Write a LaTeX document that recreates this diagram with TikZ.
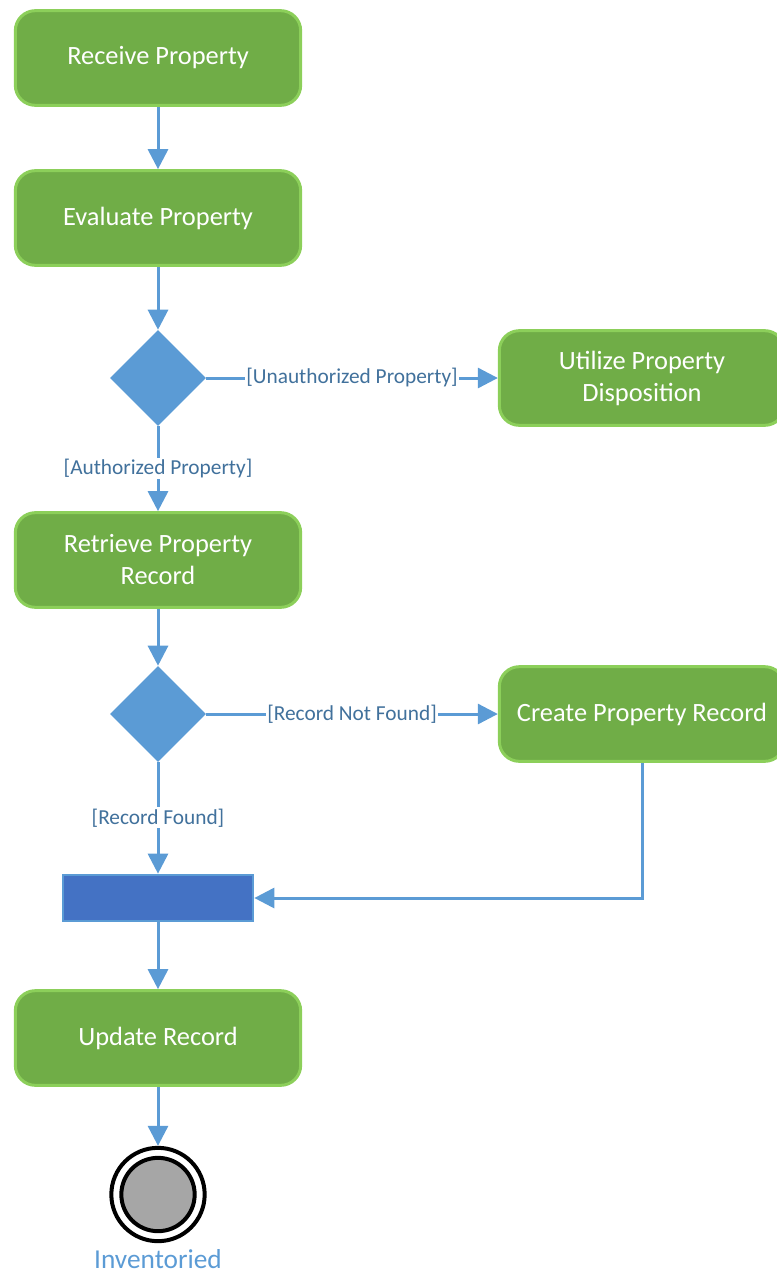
\documentclass[tikz,border=0pt]{standalone}
\usepackage{fontspec}
\setmainfont{Carlito}
\usetikzlibrary{arrows.meta,shapes.geometric}
\definecolor{actgreen}{HTML}{70AD47}
\definecolor{actborder}{HTML}{8CCF5A}
\definecolor{flowblue}{HTML}{5B9BD5}
\definecolor{labelblue}{HTML}{41719C}
\definecolor{barblue}{HTML}{4472C4}
\definecolor{endgray}{HTML}{A6A6A6}
\tikzset{
  act/.style={rectangle, rounded corners=15pt, fill=actgreen, draw=actborder,
    line width=2.25pt, minimum width=214pt, minimum height=71pt, text=white,
    align=center, font=\fontsize{19.8}{24}\selectfont, inner sep=0pt},
  decision/.style={diamond, fill=flowblue, draw=none, minimum width=72pt,
    minimum height=72pt, inner sep=0pt},
  flow/.style={draw=flowblue, line width=2.25pt,
    -{Triangle[width=15pt,length=15pt]}},
  guard/.style={fill=white, text=labelblue, font=\fontsize{16}{19}\selectfont,
    inner sep=1pt},
  joinbar/.style={rectangle, fill=barblue, draw=flowblue, line width=1.5pt,
    minimum width=143pt, minimum height=35pt, inner sep=0pt},
}
\begin{document}
\begin{tikzpicture}[x=0.75pt,y=-0.75pt]
\useasboundingbox (0,0) rectangle (777,1274);
\clip (0,0) rectangle (777,1274);
\node[act] (receive) at (158,58) {\raisebox{-2pt}{Receive Property}};
\node[act] (evaluate) at (158,218) {\raisebox{-2pt}{Evaluate Property}};
\node[decision] (d1) at (158,378) {};
\node[act] (utilize) at (642,378) {Utilize Property\\Disposition};
\node[act] (retrieve) at (158,560) {Retrieve Property\\Record};
\node[decision] (d2) at (158,714) {};
\node[act] (create) at (642,714) {\raisebox{-2pt}{Create Property Record}};
\node[joinbar] (bar) at (158,898) {};
\node[act] (update) at (158,1038) {\raisebox{-2pt}{Update Record}};
\node[circle, draw=black, line width=3pt, minimum size=70pt, inner sep=0pt] (final) at (158,1194.5) {};
\node[circle, fill=endgray, draw=black, line width=3pt, minimum size=55pt, inner sep=0pt] (finalin) at (158,1194.5) {};
\node[text=flowblue, font=\fontsize{20.5}{24}\selectfont] (endlabel) at (158,1259) {Inventoried};

\draw[flow] (receive) -- (evaluate);
\draw[flow] (evaluate) -- (d1);
\draw[flow] (d1) -- node[guard] (g1) {[Unauthorized Property]} (utilize);
\draw[flow] (d1) -- node[guard] (g2) {[Authorized Property]} (retrieve);
\draw[flow] (retrieve) -- (d2);
\draw[flow] (d2) -- node[guard] (g3) {[Record Not Found]} (create);
\draw[flow] (d2) -- node[guard] (g4) {[Record Found]} (bar);
\draw[flow] (create.south) |- (bar.east);
\draw[flow] (bar) -- (update);
\draw[flow] (update) -- (final);
\end{tikzpicture}
\end{document}
